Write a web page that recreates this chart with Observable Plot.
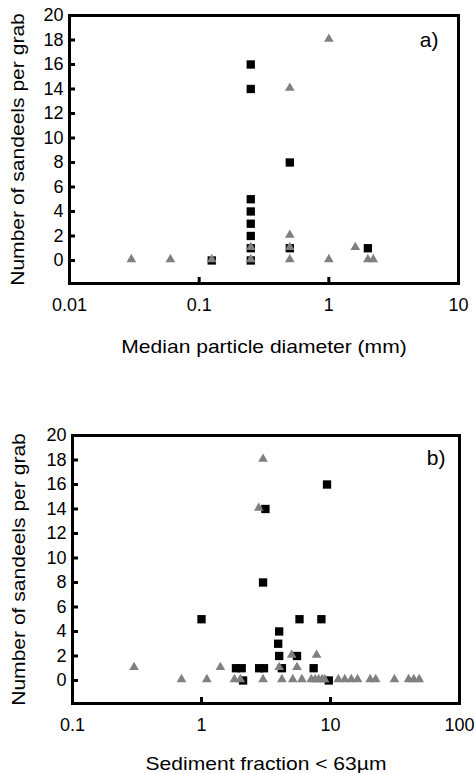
<!DOCTYPE html>
<html>
<head>
<meta charset="utf-8">
<script src="https://cdn.jsdelivr.net/npm/d3@7"></script>
<script src="https://cdn.jsdelivr.net/npm/@observablehq/plot@0.6"></script>
<style>
  body { margin: 0; background: #fff; }
  #chart svg { display: block; }
</style>
</head>
<body>
<div id="chart"></div>
<script>
// ---- Data ----
const yTicks = [0, 2, 4, 6, 8, 10, 12, 14, 16, 18, 20];
const yTitle = "Number of sandeels per grab";

// Panel a) median particle diameter (mm)
const aXTicks = [0.01, 0.1, 1, 10];
const aXTitle = "Median particle diameter (mm)";
const aSquareDiameter = [0.125, 0.25, 0.25, 0.25, 0.25, 0.25, 0.25, 0.25, 0.25, 0.5, 0.5, 2.0];
const aSquareCount    = [0,     16,   14,   5,    4,    3,    2,    1,    0,    8,   1,   1];
const aTriangleDiameter = [0.03, 0.06, 0.125, 0.25, 0.25, 0.5, 0.5, 0.5, 0.5, 1, 1, 1.6, 2.0, 2.2];
const aTriangleCount    = [0,    0,    0,     1,    0,    14,  2,   1,   0,   18, 0, 1,   0,   0];

// Panel b) sediment fraction < 63 µm
const bXTicks = [0.1, 1, 10, 100];
const bXTitle = "Sediment fraction < 63\u00B5m";
const bSquareFraction = [1.0, 9.4, 3.13, 3.0, 5.75, 8.5, 4.0, 3.93, 4.0, 5.5, 1.85, 2.05, 2.8, 3.05, 4.2, 7.4, 2.1, 9.7];
const bSquareCount    = [5,   16,  14,   8,   5,    5,   4,   3,    2,   2,   1,    1,    1,   1,    1,   1,   0,   0];
const bTriangleFraction = [3.0, 2.78, 0.3, 1.4, 4.0, 5.5, 5.0, 7.8,
  0.7, 1.1, 1.8, 2.0, 3.0, 4.2, 5.1, 6.0, 7.1, 7.6, 8.1, 8.6, 9.0,
  11.5, 12.9, 14.5, 16.2, 20.3, 22.4, 31.3, 40.3, 44.2, 48.7];
const bTriangleCount = [18, 14, 1, 1, 1, 1, 2, 2,
  0, 0, 0, 0, 0, 0, 0, 0, 0, 0, 0, 0, 0,
  0, 0, 0, 0, 0, 0, 0, 0, 0, 0];

const zip = (xs, ys) => xs.map((x, i) => ({x, y: ys[i]}));

function panel({xDomain, xTicks, xTitle, squares, triangles, tag, height, margins, yLabelOffset, xLabelOffset, tagDx, tagDy}) {
  return Plot.plot({
    width: 475,
    height,
    ...margins,
    style: {fontFamily: "'Liberation Sans', Arial, sans-serif", fontSize: "18px", color: "#000", background: "#fff", overflow: "visible"},
    x: {type: "log", domain: xDomain},
    y: {domain: [-1.88, 20]},
    marks: [
      Plot.dot(squares, {x: "x", y: "y", symbol: "square", r: 4.7, fill: "#000", stroke: null}),
      Plot.dot(triangles, {x: "x", y: "y", symbol: "triangle", r: 3.6, fill: "#808080", stroke: null, dy: -1}),
      Plot.axisY(yTicks, {
        tickSize: -6, tickPadding: 12, strokeWidth: 3,
        label: yTitle, labelAnchor: "center", labelOffset: yLabelOffset, labelArrow: "none"
      }),
      Plot.axisX(xTicks, {
        tickSize: -6, tickPadding: 21, strokeWidth: 3, tickFormat: d => String(d),
        label: xTitle, labelAnchor: "center", labelOffset: xLabelOffset, labelArrow: "none"
      }),
      Plot.frame({stroke: "#000", strokeWidth: 3}),
      Plot.text([tag], {frameAnchor: "top-right", textAnchor: "end", lineAnchor: "top", dx: tagDx, dy: tagDy, fontSize: 20})
    ]
  });
}

function widen(svg) {
  const stretch = (sel, s, fs) => {
    svg.querySelectorAll(sel).forEach(el => {
      if (fs) el.setAttribute("font-size", fs);
      el.querySelectorAll("text").forEach(t => {
        const tr = t.getAttribute("transform") || "";
        t.setAttribute("transform", tr + ` scale(${s},1)`);
      });
    });
  };
  stretch('g[aria-label="y-axis label"]', 1.17, 18);
  stretch('g[aria-label="x-axis label"]', 1.17, 18);
  stretch('g[aria-label="text"]', 1.05);
  return svg;
}

const chart = document.getElementById("chart");
chart.append(widen(panel({
  xDomain: [0.01, 10], xTicks: aXTicks, xTitle: aXTitle,
  squares: zip(aSquareDiameter, aSquareCount),
  triangles: zip(aTriangleDiameter, aTriangleCount),
  tag: "a)", height: 386,
  margins: {marginTop: 15, marginBottom: 103, marginLeft: 69, marginRight: 17},
  yLabelOffset: 58, xLabelOffset: 69, tagDx: -20, tagDy: 17
})));
chart.append(widen(panel({
  xDomain: [0.1, 100], xTicks: bXTicks, xTitle: bXTitle,
  squares: zip(bSquareFraction, bSquareCount),
  triangles: zip(bTriangleFraction, bTriangleCount),
  tag: "b)", height: 387,
  margins: {marginTop: 49, marginBottom: 70, marginLeft: 72, marginRight: 16},
  yLabelOffset: 60, xLabelOffset: 66, tagDx: -14, tagDy: 15
})));
</script>
</body>
</html>
